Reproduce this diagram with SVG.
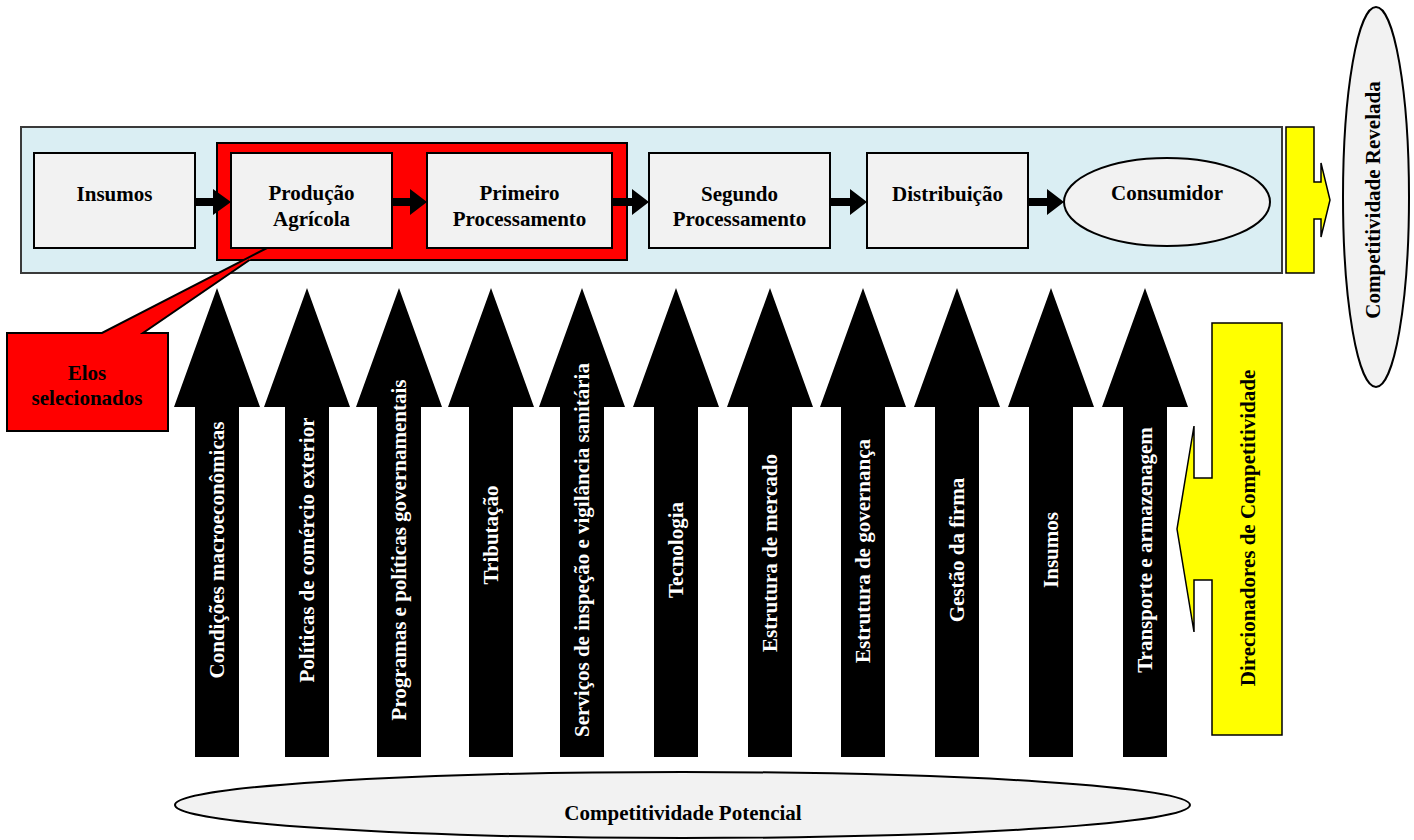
<svg xmlns="http://www.w3.org/2000/svg" width="1414" height="840" viewBox="0 0 1414 840">
<style>
  text { font-family: "Liberation Serif", "Times New Roman", serif; font-weight: bold; font-size: 21px; }
  .box { fill: #F2F2F2; stroke: #000; stroke-width: 2; }
  .lbl { fill: #000; text-anchor: middle; }
  .wlbl { fill: #FFF; text-anchor: middle; }
  .blk { fill: #000; }
  .yel { fill: #FFFF00; stroke: #000; stroke-width: 1.5; }
</style>
<defs>
  <path id="up" d="M0,288 L43,407 L22,407 L22,757 L-22,757 L-22,407 L-43,407 Z"/>
</defs>
<rect width="1414" height="840" fill="#FFFFFF"/>

<g id="cadeia">
  <rect x="21" y="127" width="1261" height="146" fill="#DAEEF3" stroke="#3A3A3A" stroke-width="2"/>
</g>
<g id="elos-selecionados-frame">
  <rect x="217" y="143" width="410" height="117" fill="#FF0000" stroke="#000" stroke-width="2"/>
</g>

<g id="insumos">
  <rect class="box" x="34" y="153" width="161" height="95"/>
  <text class="lbl" x="114.5" y="201">Insumos</text>
</g>
<g id="producao-agricola">
  <rect class="box" x="231" y="153" width="161" height="95"/>
  <text class="lbl" x="311.5" y="200">Produção</text>
  <text class="lbl" x="311.5" y="226">Agrícola</text>
</g>
<g id="primeiro-processamento">
  <rect class="box" x="427" y="153" width="185" height="95"/>
  <text class="lbl" x="519.5" y="200">Primeiro</text>
  <text class="lbl" x="519.5" y="226">Processamento</text>
</g>
<g id="segundo-processamento">
  <rect class="box" x="649" y="153" width="181" height="95"/>
  <text class="lbl" x="739.5" y="201">Segundo</text>
  <text class="lbl" x="739.5" y="226">Processamento</text>
</g>
<g id="distribuicao">
  <rect class="box" x="867" y="153" width="161" height="95"/>
  <text class="lbl" x="947.5" y="201">Distribuição</text>
</g>
<g id="consumidor">
  <ellipse class="box" cx="1167" cy="202" rx="103" ry="44"/>
  <text class="lbl" x="1167" y="200">Consumidor</text>
</g>

<g id="connectors">
  <path class="blk" d="M195,198 H213 V189 L231,202 L213,215 V206 H195 Z"/>
  <path class="blk" d="M392,198 H410 V189 L427,202 L410,215 V206 H392 Z"/>
  <path class="blk" d="M612,198 H632 V189 L649,202 L632,215 V206 H612 Z"/>
  <path class="blk" d="M830,198 H850 V189 L867,202 L850,215 V206 H830 Z"/>
  <path class="blk" d="M1028,198 H1047 V189 L1064,202 L1047,215 V206 H1028 Z"/>
</g>

<g id="competitividade-revelada-seta">
  <path class="yel" d="M1286,127 H1314 V182 H1321 V163 L1330,200 L1321,237 V219 H1314 V273 H1286 Z"/>
</g>
<g id="competitividade-revelada">
  <ellipse cx="1376" cy="197" rx="33" ry="190" fill="#F2F2F2" stroke="#000" stroke-width="2"/>
  <text class="lbl" transform="translate(1380,200) rotate(-90)">Competitividade Revelada</text>
</g>

<g id="elos-selecionados">
  <path d="M7,333 H102 L267,248 L143,333 H168 V431 H7 Z" fill="#FF0000"/>
  <path d="M249.5,260 L143,333 H168 V431 H7 V333 H102 L267,248" fill="none" stroke="#000" stroke-width="2"/>
  <text class="lbl" x="87" y="380">Elos</text>
  <text class="lbl" x="87" y="405">selecionados</text>
</g>

<g id="condicoes-macroeconomicas">
  <use href="#up" x="217"/>
  <text class="wlbl" transform="translate(224,550) rotate(-90)">Condições macroeconômicas</text>
</g>
<g id="politicas-comercio-exterior">
  <use href="#up" x="307"/>
  <text class="wlbl" transform="translate(314,550) rotate(-90)">Políticas de comércio exterior</text>
</g>
<g id="programas-politicas-governamentais">
  <use href="#up" x="399"/>
  <text class="wlbl" transform="translate(406,550) rotate(-90)">Programas e políticas governamentais</text>
</g>
<g id="tributacao">
  <use href="#up" x="491"/>
  <text class="wlbl" transform="translate(498,535) rotate(-90)">Tributação</text>
</g>
<g id="servicos-inspecao">
  <use href="#up" x="582"/>
  <text class="wlbl" transform="translate(589,550) rotate(-90)">Serviços de inspeção e vigilância sanitária</text>
</g>
<g id="tecnologia">
  <use href="#up" x="676"/>
  <text class="wlbl" transform="translate(683,550) rotate(-90)">Tecnologia</text>
</g>
<g id="estrutura-mercado">
  <use href="#up" x="770"/>
  <text class="wlbl" transform="translate(777,553) rotate(-90)">Estrutura de mercado</text>
</g>
<g id="estrutura-governanca">
  <use href="#up" x="863"/>
  <text class="wlbl" transform="translate(870,551) rotate(-90)">Estrutura de governança</text>
</g>
<g id="gestao-firma">
  <use href="#up" x="957"/>
  <text class="wlbl" transform="translate(964,550) rotate(-90)">Gestão da firma</text>
</g>
<g id="insumos-direcionador">
  <use href="#up" x="1051"/>
  <text class="wlbl" transform="translate(1058,550) rotate(-90)">Insumos</text>
</g>
<g id="transporte-armazenagem">
  <use href="#up" x="1145"/>
  <text class="wlbl" transform="translate(1152,550) rotate(-90)">Transporte e armazenagem</text>
</g>

<g id="direcionadores">
  <path class="yel" d="M1212,323 H1282 V735 H1212 V580 H1194 V632 L1177,529 L1194,426 V478 H1212 Z"/>
  <text class="lbl" transform="translate(1255,528) rotate(-90)">Direcionadores de Competitividade</text>
</g>

<g id="competitividade-potencial">
  <ellipse cx="682.5" cy="805" rx="507.5" ry="33" fill="#F2F2F2" stroke="#000" stroke-width="2"/>
  <text class="lbl" x="683" y="820">Competitividade Potencial</text>
</g>
</svg>
